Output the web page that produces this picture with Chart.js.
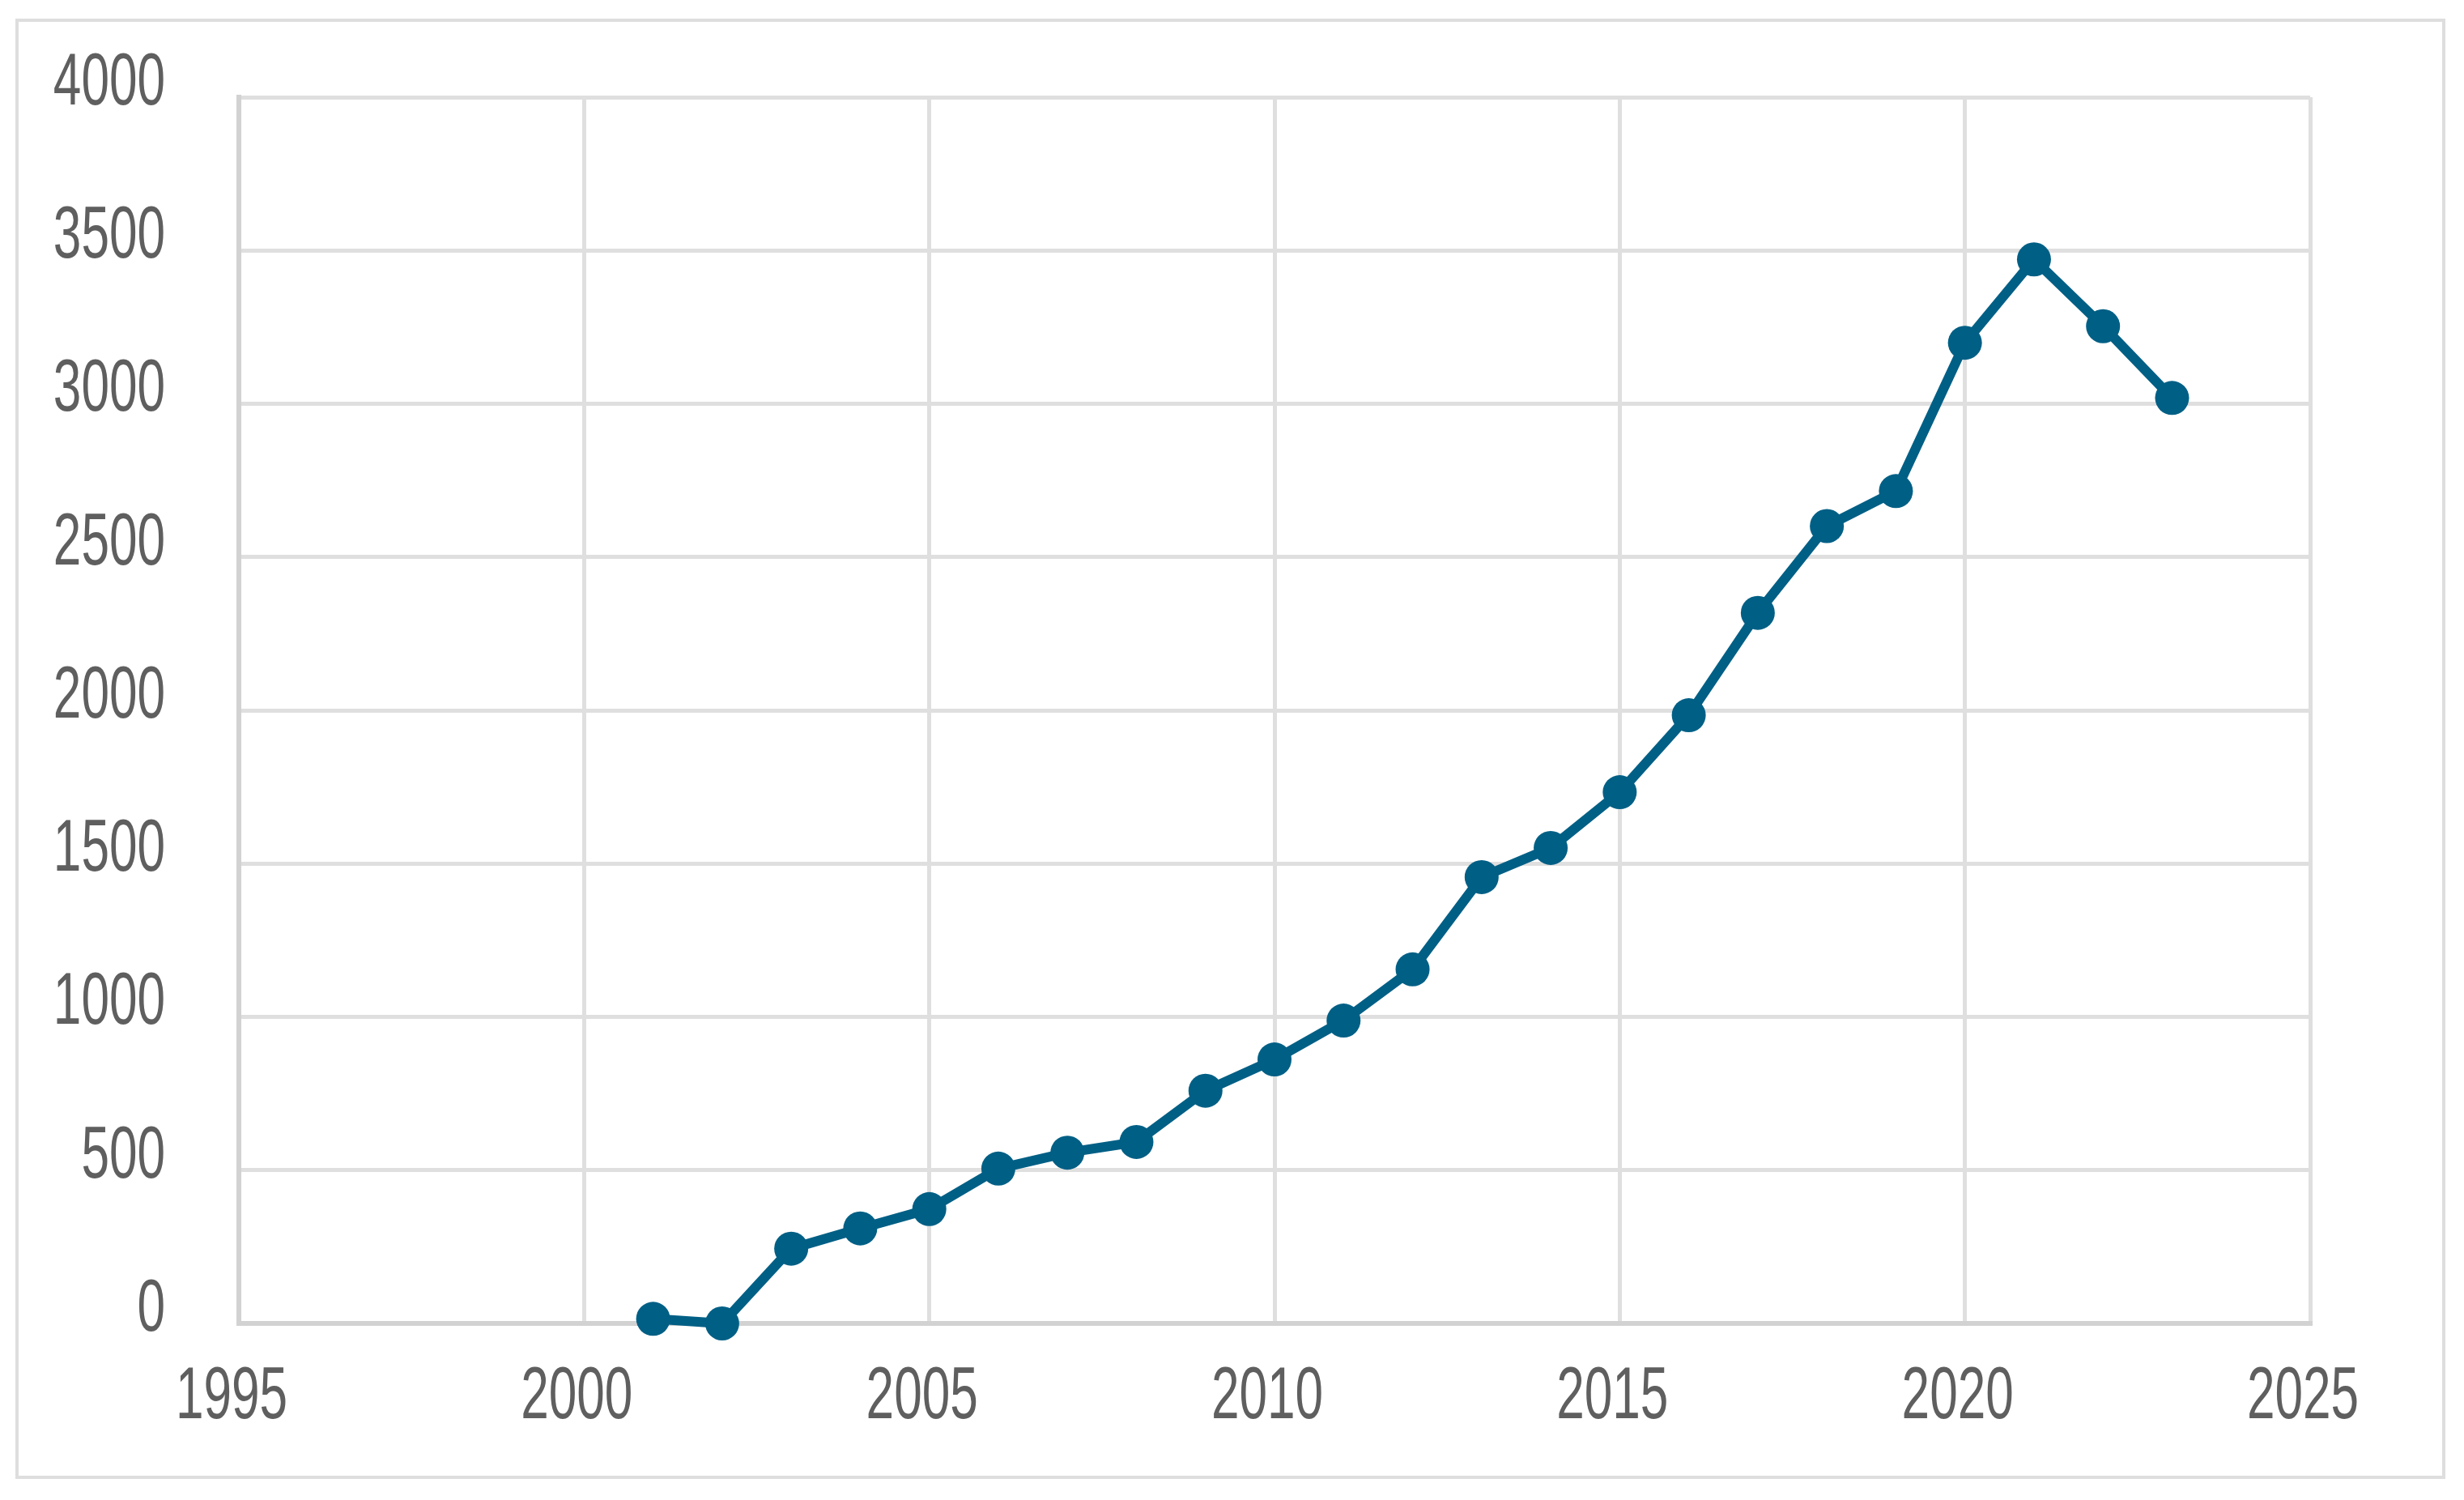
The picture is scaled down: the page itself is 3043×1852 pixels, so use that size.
<!DOCTYPE html>
<html>
<head>
<meta charset="utf-8">
<script src="https://cdn.jsdelivr.net/npm/chart.js@4.4.1/dist/chart.umd.min.js"></script>
<style>
  html, body { margin: 0; padding: 0; background: #ffffff; }
  #frame { position: absolute; left: 19px; top: 23px; width: 3001px; height: 1803px; border: 4px solid #dedede; box-sizing: border-box; }
  #wrap { position: absolute; left: 0; top: 0; width: 3043px; height: 1852px; }
</style>
</head>
<body>
<div id="frame"></div>
<div id="wrap"><canvas id="c" width="3043" height="1852"></canvas></div>
<script>
const years = [2001, 2002, 2003, 2004, 2005, 2006, 2007, 2008, 2009, 2010, 2011, 2012,
               2013, 2014, 2015, 2016, 2017, 2018, 2019, 2020, 2021, 2022, 2023];
const values = [15, 0, 244, 310, 373, 505, 557, 592, 759, 861, 988, 1155,
                1456, 1551, 1733, 1984, 2318, 2601, 2715, 3199, 3471, 3253, 3019];
const xTicks = [1995, 2000, 2005, 2010, 2015, 2020, 2025];
const yTicks = [0, 500, 1000, 1500, 2000, 2500, 3000, 3500, 4000];

const FONT = '"Liberation Sans", Arial, sans-serif';
const points = years.map((y, i) => ({ x: y, y: values[i] }));

// Condensed text rendering: tick labels are drawn narrower, like the reference's narrow face.
const narrowText = {
  id: 'narrowText',
  beforeDraw(chart) {
    const ctx = chart.ctx;
    if (ctx.__narrow) return;
    const orig = ctx.fillText;
    ctx.fillText = function (text, x, y, maxWidth) {
      this.save();
      this.translate(x, y);
      this.scale(0.69, 1);
      if (maxWidth === undefined) orig.call(this, text, 0, 0);
      else orig.call(this, text, 0, 0, maxWidth / 0.69);
      this.restore();
    };
    ctx.__narrow = true;
  }
};

new Chart(document.getElementById('c'), {
  type: 'line',
  data: {
    datasets: [{
      data: points,
      borderColor: '#005f85',
      backgroundColor: '#005f85',
      borderWidth: 12,
      pointRadius: 21,
      pointHoverRadius: 21,
      pointBorderWidth: 0,
      tension: 0,
      clip: false
    }]
  },
  plugins: [narrowText],
  options: {
    responsive: false,
    animation: false,
    events: [],
    layout: { padding: { left: 0, top: 120, right: 190, bottom: 0 } },
    plugins: { legend: { display: false }, tooltip: { enabled: false } },
    scales: {
      x: {
        type: 'linear',
        min: xTicks[0],
        max: xTicks[xTicks.length - 1],
        afterBuildTicks: (s) => { s.ticks = xTicks.map(v => ({ value: v })); },
        afterFit: (s) => { s.height = 218; s.paddingLeft = 0; s.paddingRight = 0; },
        grid: { color: '#dfdfdf', lineWidth: 5, drawTicks: false },
        border: { color: '#d2d2d2', width: 6 },
        ticks: {
          color: '#5f5f5f',
          font: { family: FONT, size: 90 },
          padding: 38,
          labelOffset: -9,
          maxRotation: 0,
          autoSkip: false,
          callback: (v) => String(v)
        }
      },
      y: {
        type: 'linear',
        min: yTicks[0],
        max: yTicks[yTicks.length - 1],
        afterBuildTicks: (s) => { s.ticks = yTicks.map(v => ({ value: v })); },
        afterFit: (s) => { s.width = 295; s.paddingTop = 0; s.paddingBottom = 0; },
        grid: { color: '#dfdfdf', lineWidth: 5, drawTicks: false },
        border: { color: '#d2d2d2', width: 6 },
        ticks: {
          color: '#5f5f5f',
          font: { family: FONT, size: 90 },
          padding: 91,
          labelOffset: -16,
          autoSkip: false,
          callback: (v) => String(v)
        }
      }
    }
  }
});
</script>
</body>
</html>
